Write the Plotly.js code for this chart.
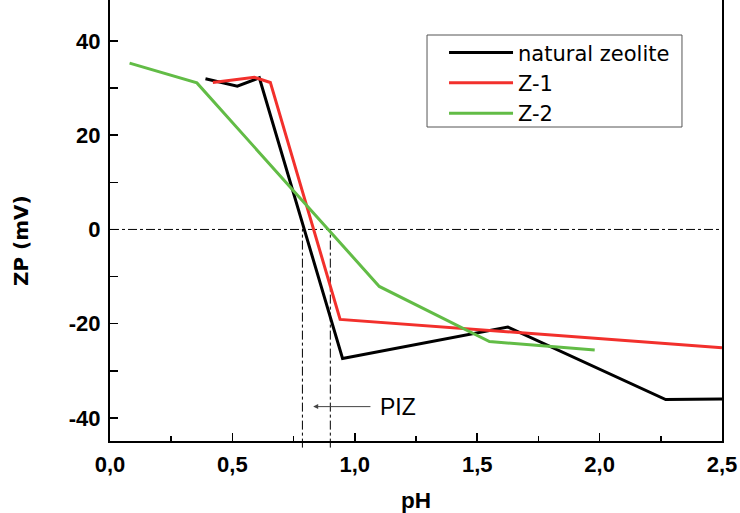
<!DOCTYPE html>
<html>
<head>
<meta charset="utf-8">
<script src="https://cdn.plot.ly/plotly-3.0.1.min.js"></script>
<style>html,body{margin:0;padding:0;background:#fff}#chart{width:740px;height:513px}</style>
</head>
<body>
<div id="chart"></div>
<script>
// pH values and zeta potential (mV)
const naturalX = [0.39, 0.52, 0.61, 0.95, 1.625, 2.27, 2.5];
const naturalY = [32.0, 30.4, 32.2, -27.4, -20.7, -36.1, -36.0];
const z1X = [0.42, 0.59, 0.655, 0.94, 2.5];
const z1Y = [31.2, 32.3, 31.2, -19.1, -25.1];
const z2X = [0.08, 0.355, 1.10, 1.55, 1.98];
const z2Y = [35.3, 31.1, -12.1, -23.8, -25.6];
const seriesNames = ['natural zeolite', 'Z-1', 'Z-2'];
const pizX = [0.786, 0.90];
const yTickVals = [-40, -20, 0, 20, 40];
const yTickText = ['-40', '-20', '0', '20', '40'];
const yMinorVals = [-30, -10, 10, 30];
const xTickVals = [0, 0.5, 1.0, 1.5, 2.0, 2.5];
const xMinorVals = [0.25, 0.75, 1.25, 1.75, 2.25];

const xRange = [0, 2.5];
const yRange = [-44.9, 48.7];

const traces = [
  {x: naturalX, y: naturalY, name: seriesNames[0], mode: 'lines', line: {color: '#000000', width: 3}},
  {x: z1X, y: z1Y, name: seriesNames[1], mode: 'lines', line: {color: '#f2302c', width: 3}},
  {x: z2X, y: z2Y, name: seriesNames[2], mode: 'lines', line: {color: '#62bc46', width: 3}}
];

const shapes = [
  {type: 'line', xref: 'paper', yref: 'y', x0: 0, x1: 1, y0: 0, y1: 0, line: {color: '#000', width: 1, dash: 'dashdot'}, layer: 'below'},
  // legend frame
  {type: 'rect', xref: 'paper', yref: 'paper', x0: 0.518, x1: 0.9346, y0: 0.712, y1: 0.9206, line: {color: '#555', width: 1}, fillcolor: 'rgba(0,0,0,0)', layer: 'above'}
];
pizX.forEach(v => {
  shapes.push({type: 'line', xref: 'x', yref: 'paper', x0: v, x1: v, y0: -0.015, y1: (0 - yRange[0]) / (yRange[1] - yRange[0]), line: {color: '#000', width: 1, dash: 'dashdot'}, layer: 'below'});
});

const layout = {
  width: 740, height: 513,
  margin: {l: 110, r: 18, t: 0, b: 72},
  paper_bgcolor: '#fff', plot_bgcolor: '#fff',
  separators: ',.',
  showlegend: true,
  legend: {
    x: 0.5458, y: 0.9265, xanchor: 'left', yanchor: 'top',
    borderwidth: 0, bgcolor: 'rgba(0,0,0,0)',
    font: {family: 'DejaVu Sans, sans-serif', size: 21, color: '#000'},
    itemwidth: 64, tracegroupgap: 0
  },
  xaxis: {
    range: xRange, tickmode: 'array', tickvals: xTickVals, tickformat: '.1f',
    showgrid: false, zeroline: false,
    showline: true, linecolor: '#000', linewidth: 2, mirror: false,
    ticks: 'inside', ticklen: 8, tickwidth: 1.5, tickcolor: '#000',
    minor: {tickmode: 'array', tickvals: xMinorVals, ticks: 'inside', ticklen: 5, tickwidth: 1.5, tickcolor: '#000'},
    tickfont: {family: 'Liberation Sans, Arial, sans-serif', size: 22, color: '#000', weight: 'bold'},
    ticklabelstandoff: 3,
    title: {text: '<b>pH</b>', font: {family: 'Liberation Sans, Arial, sans-serif', size: 22.5, color: '#000'}, standoff: 29}
  },
  yaxis: {
    range: yRange, tickmode: 'array', tickvals: yTickVals, ticktext: yTickText,
    showgrid: false, zeroline: false,
    showline: true, linecolor: '#000', linewidth: 2, mirror: true,
    ticks: 'inside', ticklen: 8, tickwidth: 1.5, tickcolor: '#000',
    minor: {tickmode: 'array', tickvals: yMinorVals, ticks: 'inside', ticklen: 8, tickwidth: 1.5, tickcolor: '#000'},
    tickfont: {family: 'Liberation Sans, Arial, sans-serif', size: 22, color: '#000', weight: 'bold'},
    ticklabelstandoff: 3
  },
  shapes: shapes,
  annotations: [
    {x: -0.1454, y: 0.4535, xref: 'paper', yref: 'paper', text: '<b>ZP (mV)</b>', textangle: -90, showarrow: false,
     xanchor: 'center', yanchor: 'middle', font: {family: 'DejaVu Sans, sans-serif', size: 20, color: '#000'}},
    {x: 0.83, y: -37.6, xref: 'x', yref: 'y', ax: 1.07, ay: -37.6, axref: 'x', ayref: 'y',
     text: '', showarrow: true, arrowhead: 2, arrowsize: 1, arrowwidth: 1, arrowcolor: '#444'},
    {x: 1.095, y: -37.6, xref: 'x', yref: 'y', text: 'PIZ', showarrow: false, xanchor: 'left',
     font: {family: 'Liberation Sans, Arial, sans-serif', size: 23, color: '#000'}}
  ]
};

Plotly.newPlot('chart', traces, layout, {displayModeBar: false, staticPlot: true});
</script>
</body>
</html>
